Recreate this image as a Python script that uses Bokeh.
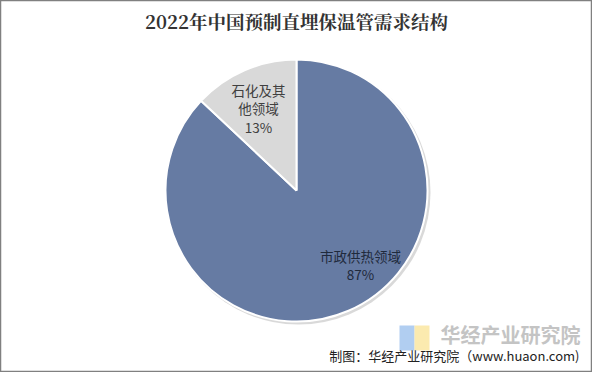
import math
from bokeh.plotting import figure
from bokeh.models import Range1d, ColumnDataSource
from bokeh.core.properties import value
from bokeh.embed import file_html
from bokeh.resources import INLINE

# ---- data ----
categories = ["市政供热领域", "石化及其他领域"]
shares = [87, 13]
label_lines = [["市政供热领域"], ["石化及其", "他领域"]]
colors = ["#667BA3", "#D9D9D9"]
title_text = "2022年中国预制直埋保温管需求结构"
source_text = "制图：华经产业研究院（www.huaon.com)"
watermark_text = "华经产业研究院"

W, H = 592, 372
p = figure(width=W, height=H, output_backend="svg", toolbar_location=None,
           x_range=Range1d(0, W), y_range=Range1d(0, H), min_border=0,
           background_fill_color="white", border_fill_color="white",
           outline_line_color="#808080", outline_line_width=1.5)
p.axis.visible = False
p.grid.visible = False

def px(x):
    return x - 8

def py(y):
    return (H + 8) - y

cx, cy, r = px(304), py(198), 131

# shadow
p.circle(x=[cx + 2], y=[cy - 2], radius=r + 1, fill_color="#BFBFBF", fill_alpha=0.6,
         line_color=None)

total = sum(shares)
starts, ends = [], []
a = math.pi / 2
for s in shares:
    starts.append(a)
    a = a - 2 * math.pi * s / total
    ends.append(a)

src = ColumnDataSource(dict(start=starts, end=ends, color=colors, cat=categories, val=shares))
p.wedge(x=cx, y=cy, radius=r, start_angle="start", end_angle="end", direction="clock",
        fill_color="color", line_color="white", line_width=2, source=src)

# labels
font = value("Noto Sans CJK SC")
label_pos = [(368, 263), (266, 97)]
label_colors = ["#1F2A3C", "#404040"]
lh = 18.5
for lines, val, (lx, ly), col in zip(label_lines, shares, label_pos, label_colors):
    all_lines = lines + [f"{val}%"]
    xs = [px(lx)] * len(all_lines)
    ys = [py(ly + i * lh) for i in range(len(all_lines))]
    p.text(x=xs, y=ys, text=all_lines, text_font=font, text_font_size="13.5px",
           text_color=col, text_align="center", text_baseline="middle")

# title
p.text(x=[px(304)], y=[py(28)], text=[title_text], text_font=value("Noto Serif CJK SC"),
       text_font_size="18.5px", text_font_style="bold", text_color="#333333",
       text_align="center", text_baseline="middle")

# watermark logo
p.quad(left=[px(407)], right=[px(422)], top=[py(333)], bottom=[py(358)],
       fill_color="#A9C9EF", line_color=None, fill_alpha=0.9)
p.quad(left=[px(422)], right=[px(437)], top=[py(333)], bottom=[py(358)],
       fill_color="#FBE8A6", line_color=None, fill_alpha=0.9)
p.text(x=[px(588)], y=[py(342)], text=[watermark_text], text_font=font,
       text_font_size="20px", text_font_style="bold", text_color="#C4C4C4",
       text_align="right", text_baseline="middle")

# source
p.text(x=[px(587)], y=[py(363)], text=[source_text], text_font=font,
       text_font_size="13px", text_color="#222222",
       text_align="right", text_baseline="middle")

open("out.html", "w").write(file_html(p, INLINE))
